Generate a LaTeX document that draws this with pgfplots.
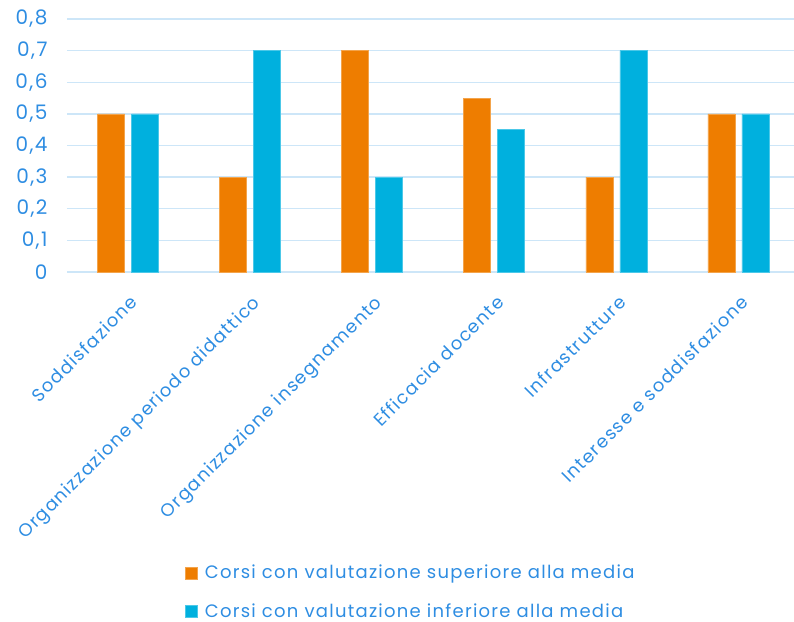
\documentclass[border=0pt]{standalone}
\usepackage{pgfplots}
\pgfplotsset{compat=1.18}
\usepackage{fontspec}
\setmainfont{Poppins}[LetterSpace=7]
\definecolor{cOr}{HTML}{EE7D00}
\definecolor{cBl}{HTML}{00B0DE}
\definecolor{cTx}{HTML}{2E8DE2}
\definecolor{cGr}{HTML}{CDE6F8}
\begin{document}
\begin{tikzpicture}
\begin{axis}[
  scale only axis,
  width=727bp, height=253bp,
  xmin=-0.5, xmax=5.455,
  ymin=0, ymax=0.8,
  ytick={0,0.1,...,0.8},
  axis line style={draw=none},
  major tick length=0pt,
  ymajorgrids,
  grid style={cGr, line width=1.4bp},
  ybar, bar width=27bp,
  xtick={0,1,2,3,4,5},
  xticklabels={Soddisfazione,Organizzazione periodo didattico,Organizzazione insegnamento,Efficacia docente,Infrastrutture,Interesse e soddisfazione},
  x tick label style={xshift=1bp, yshift=-22bp, rotate=45, anchor=north east, font=\fontsize{18bp}{21bp}\selectfont, text=cTx, inner sep=0pt},
  y tick label style={font=\fontsize{20bp}{23bp}\selectfont, text=cTx, xshift=-16bp},
  /pgf/number format/.cd, use comma, fixed, precision=1, assume math mode=true,
  /pgfplots/.cd,
  legend style={at={(0.473,-1.15)}, anchor=north, draw=none, fill=none, font=\fontsize{18bp}{21bp}\selectfont, text=cTx, legend cell align=left, row sep=19bp, inner sep=0pt},
  legend image code/.code={\fill[#1] (-5bp,-6.5bp) rectangle (7bp,5.5bp); \path (12bp,0bp);},
]
\addplot[fill=cOr, draw=cOr!70!white, line width=0.6bp, bar shift=-17bp] coordinates {(0,0.5) (1,0.3) (2,0.7) (3,0.548) (4,0.3) (5,0.5)};
\addplot[fill=cBl, draw=cBl!70!white, line width=0.6bp, bar shift=17bp] coordinates {(0,0.5) (1,0.7) (2,0.3) (3,0.452) (4,0.7) (5,0.5)};
\legend{Corsi con valutazione superiore alla media, Corsi con valutazione inferiore alla media}
\end{axis}
\pgfresetboundingbox
\path (current axis.south west) ++(-67bp,-350bp) rectangle ++(794bp,622bp);
\end{tikzpicture}
\end{document}
